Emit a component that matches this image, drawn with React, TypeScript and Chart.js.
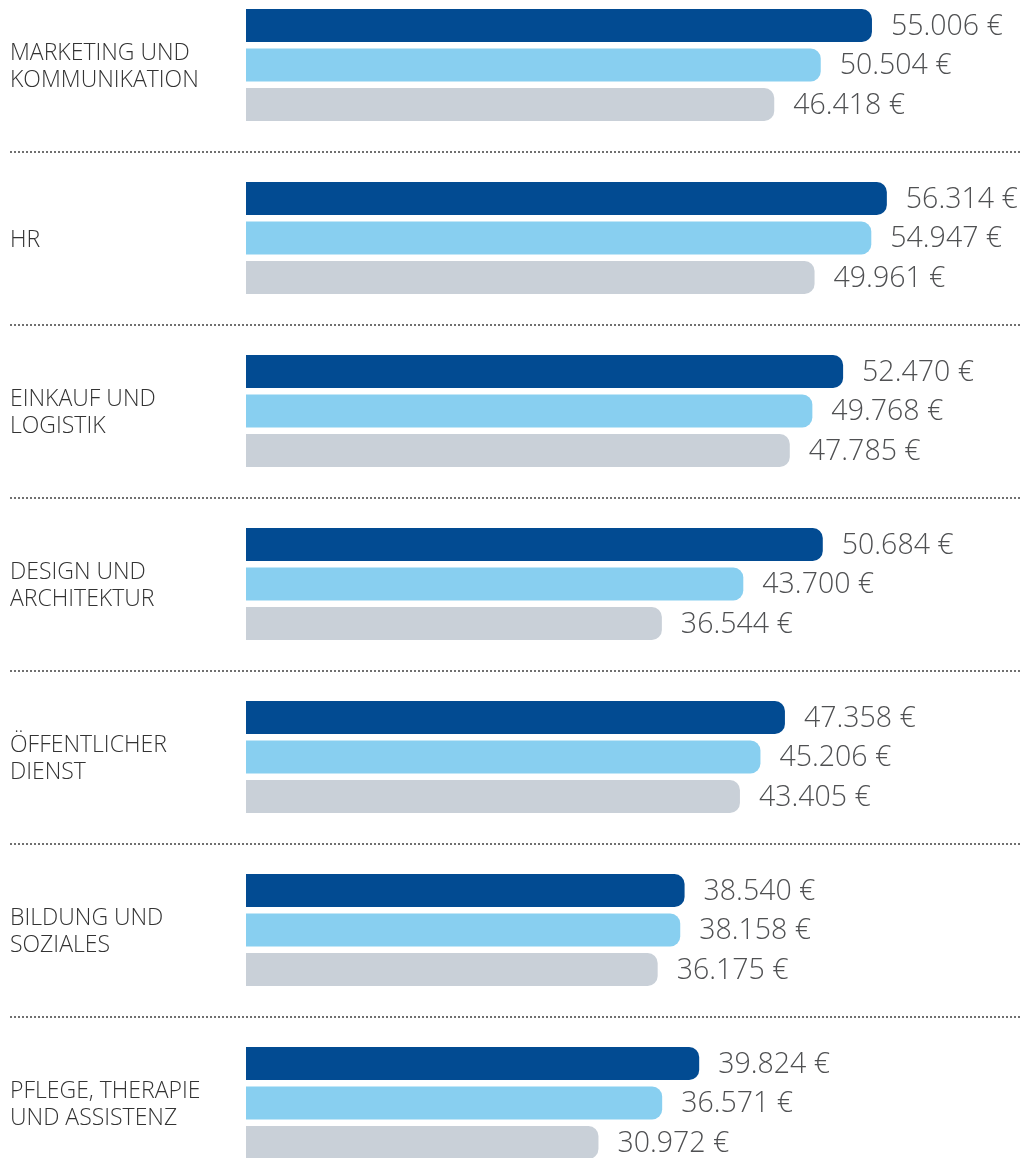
import React, { useEffect, useRef } from "react";
import { Chart, registerables } from "chart.js";

Chart.register(...registerables);

const categories: string[][] = [
  ["MARKETING UND", "KOMMUNIKATION"],
  ["HR"],
  ["EINKAUF UND", "LOGISTIK"],
  ["DESIGN UND", "ARCHITEKTUR"],
  ["ÖFFENTLICHER", "DIENST"],
  ["BILDUNG UND", "SOZIALES"],
  ["PFLEGE, THERAPIE", "UND ASSISTENZ"],
];

const seriesDark = [55006, 56314, 52470, 50684, 47358, 38540, 39824];
const seriesLight = [50504, 54947, 49768, 43700, 45206, 38158, 36571];
const seriesGrey = [46418, 49961, 47785, 36544, 43405, 36175, 30972];

const colors = ["#024B92", "#88CFF0", "#C9D0D8"];

const formatEuro = (v: number) =>
  String(v).replace(/\B(?=(\d{3})+(?!\d))/g, ".") + " €";

const FONT = "'Open Sans', 'Noto Sans', sans-serif";

const valueLabels = {
  id: "valueLabels",
  afterDatasetsDraw(chart: any) {
    const ctx = chart.ctx;
    ctx.save();
    ctx.font = `300 28.5px ${FONT}`;
    ctx.fillStyle = "#4F5052";
    ctx.textAlign = "left";
    ctx.textBaseline = "middle";
    chart.data.datasets.forEach((ds: any, di: number) => {
      const meta = chart.getDatasetMeta(di);
      meta.data.forEach((bar: any, i: number) => {
        ctx.fillText(formatEuro(ds.data[i]), bar.x + 19, bar.y + 1);
      });
    });
    ctx.restore();
  },
};

const categoryLabels = {
  id: "categoryLabels",
  afterDraw(chart: any) {
    const y = chart.scales.y;
    const ctx = chart.ctx;
    ctx.save();
    ctx.font = `300 23px ${FONT}`;
    ctx.fillStyle = "#333333";
    ctx.textAlign = "left";
    ctx.textBaseline = "middle";
    const lh = 27;
    categories.forEach((lines, i) => {
      const cy = y.getPixelForValue(i) + 2;
      lines.forEach((t, k) => {
        ctx.fillText(t, 10, cy + (k - (lines.length - 1) / 2) * lh);
      });
    });
    ctx.restore();
  },
};

const separators = {
  id: "separators",
  afterDraw(chart: any) {
    const y = chart.scales.y;
    const ctx = chart.ctx;
    ctx.save();
    ctx.fillStyle = "#707070";
    for (let i = 0; i < categories.length - 1; i++) {
      const py = Math.round((y.getPixelForValue(i) + y.getPixelForValue(i + 1)) / 2);
      for (let x = 10; x <= 1018; x += 4) {
        ctx.fillRect(x, py - 1, 2, 2);
      }
    }
    ctx.restore();
  },
};

export default function App() {
  const ref = useRef<HTMLCanvasElement | null>(null);
  useEffect(() => {
    if (!ref.current) return;
    const chart = new Chart(ref.current, {
      type: "bar",
      data: {
        labels: categories.map((c) => c.join(" ")),
        datasets: [seriesDark, seriesLight, seriesGrey].map((d, k) => ({
          data: d,
          backgroundColor: colors[k],
          borderRadius: 10,
          borderSkipped: "start",
          categoryPercentage: 0.685,
          barPercentage: 0.835,
          clip: false as any,
        })),
      },
      options: {
        indexAxis: "y",
        responsive: false,
        animation: false,
        devicePixelRatio: 1,
        layout: { padding: { top: 65, bottom: 55, left: 10, right: 0 } },
        plugins: { legend: { display: false }, tooltip: { enabled: false } },
        scales: {
          x: { display: false, min: 0, max: 68190 },
          y: {
            offset: false,
            grid: { display: false },
            border: { display: false },
            afterFit: (s: any) => {
              s.width = 236;
            },
            ticks: { display: false },
          },
        },
      },
      plugins: [valueLabels, categoryLabels, separators],
    });
    return () => chart.destroy();
  }, []);
  return (
    <div style={{ position: "absolute", left: 0, top: 0, width: 1022, height: 1158, background: "#fff" }}>
      <canvas ref={ref} width={1022} height={1158} />
    </div>
  );
}
